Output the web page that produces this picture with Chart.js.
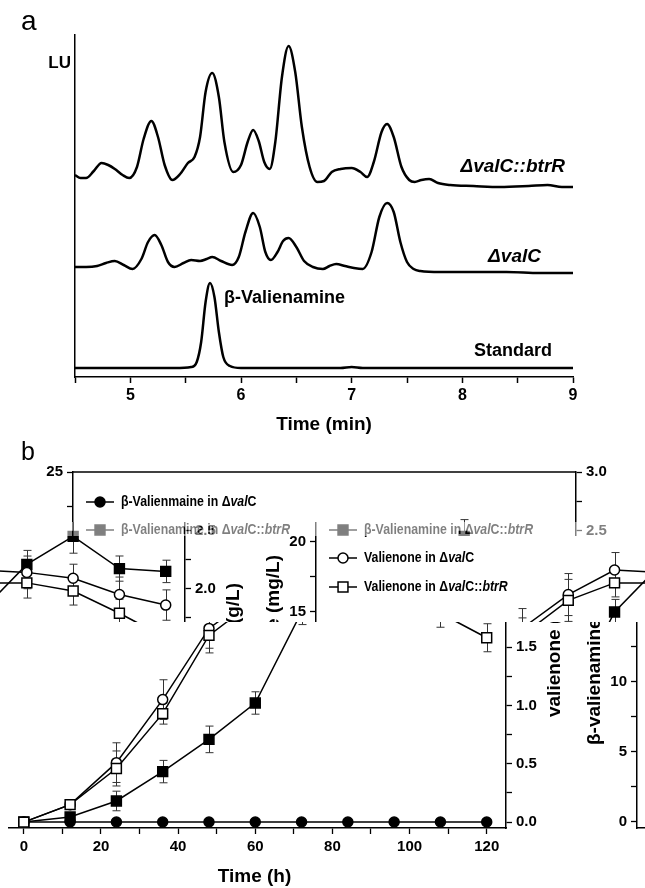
<!DOCTYPE html>
<html><head><meta charset="utf-8">
<script src="https://cdn.jsdelivr.net/npm/chart.js@4.4.1/dist/chart.umd.min.js"></script>
<style>
html,body{margin:0;padding:0;background:#fff;width:645px;height:888px;overflow:hidden}
#ca{position:absolute;left:0;top:0}
#cb{position:absolute;left:0;top:440px}
</style></head><body>
<canvas id="ca" width="645" height="440"></canvas>
<canvas id="cb" width="645" height="448"></canvas>
<script>
// ---------- Panel a : chromatograms ----------
const timeBtrR = [4.50,4.55,4.60,4.67,4.74,4.80,4.86,4.93,4.99,5.06,5.12,5.19,5.25,5.31,5.38,5.45,5.52,5.58,5.63,5.68,5.74,5.80,5.85,5.93,6.00,6.06,6.11,6.16,6.21,6.26,6.31,6.37,6.43,6.49,6.55,6.62,6.69,6.75,6.82,6.90,7.00,7.08,7.14,7.20,7.27,7.32,7.38,7.45,7.52,7.57,7.63,7.70,7.78,7.89,8.10,8.34,8.60,8.77,8.90,9.00];
const luBtrR   = [202,199,199,206,214,212,208,202,199,210,238,256,240,212,197,203,214,220,240,285,304,280,235,205,212,235,247,236,215,208,235,300,331,305,250,210,195,196,205,208,209,205,200,215,245,253,240,210,197,195,197,198,194,192,191,190,191,192,190,190];
const timeValC = [4.50,4.60,4.70,4.78,4.86,4.94,5.02,5.10,5.16,5.22,5.28,5.34,5.40,5.48,5.55,5.63,5.69,5.74,5.82,5.92,5.98,6.04,6.11,6.17,6.22,6.27,6.33,6.38,6.43,6.50,6.57,6.65,6.74,6.80,6.86,6.94,7.02,7.10,7.18,7.25,7.32,7.38,7.44,7.50,7.56,7.62,7.80,8.00,8.40,8.70,9.00];
const luValC   = [110,110,111,114,116,112,108,118,135,142,132,115,110,114,117,116,118,120,116,112,120,145,164,150,125,117,125,136,139,130,116,110,108,111,113,111,109,108,125,160,174,165,135,115,108,106,105,105,105,104,104];
const timeStd  = [4.50,5.00,5.40,5.55,5.60,5.64,5.68,5.72,5.76,5.80,5.84,5.90,6.00,6.50,6.90,7.00,7.10,8.00,9.00];
const luStd    = [9,9,9,10,15,35,75,94,80,45,20,11,9,9,9,10,9,9,9];
const xTicksA  = [4.5,5,5.5,6,6.5,7,7.5,8,8.5,9];
const traceLabelsA = ['ΔvalC::btrR','ΔvalC','β-Valienamine','Standard'];

// ---------- Panel b : time course ----------
const hours      = [0,12,24,36,48,60,72,84,96,108,120];
const bValC      = [0,0,0,0,0,0,0,0,0,0,0];                       // mg/L
const bBtrR      = [0,0.36,1.5,3.6,5.9,8.5,15.0,18.4,20.4,18.1,17.9]; // mg/L
const bBtrRErr   = [0.1,0.3,0.7,0.8,0.95,0.8,0.9,1.0,1.2,0.9,0.8];
const vValC      = [0,0.15,0.51,1.05,1.66,1.95,2.16,2.14,2.09,1.95,1.86]; // g/L
const vValCErr   = [0.01,0.04,0.17,0.17,0.17,0.18,0.15,0.14,0.12,0.15,0.13];
const vBtrR      = [0,0.15,0.46,0.93,1.60,1.90,2.05,2.05,1.98,1.79,1.58]; // g/L
const vBtrRErr   = [0.01,0.04,0.15,0.09,0.15,0.18,0.12,0.13,0.12,0.12,0.12];
const xTicksB    = [0,10,20,30,40,50,60,70,80,90,100,110,120];
const yLTicksB   = [0,2.5,5,7.5,10,12.5,15,17.5,20,22.5,25];
const yRTicksB   = [0,0.25,0.5,0.75,1,1.25,1.5,1.75,2,2.25,2.5,2.75,3];
const seriesNames = ['β-Valienmaine in ΔvalC','β-Valienamine in ΔvalC::btrR','Valienone in ΔvalC','Valienone in ΔvalC::btrR'];
const xTitleB = 'Time (h)', yLTitleB = 'β-valienamine (mg/L)', yRTitleB = 'valienone (g/L)';

const F = '"Liberation Sans", Arial, Helvetica, sans-serif';

function richText(ctx, text, x, y, size, baseItalic) {
  const parts = text.split(/(val(?=C)|btrR)/).filter(s => s.length);
  let cx = x;
  parts.forEach(p => {
    const it = baseItalic || p === 'val' || p === 'btrR';
    ctx.font = (it ? 'italic ' : '') + 'bold ' + size + 'px ' + F;
    ctx.fillText(p, cx, y);
    cx += ctx.measureText(p).width;
  });
}

// ---------- Chart a ----------
const decoA = {
  id: 'decoA',
  beforeDraw(c) { const ctx = c.ctx; ctx.save(); ctx.fillStyle = '#fff'; ctx.fillRect(0, 0, c.width, c.height); ctx.restore(); },
  afterDraw(c) {
    const ctx = c.ctx, a = c.chartArea;
    ctx.save();
    ctx.fillStyle = '#000';
    ctx.textBaseline = 'alphabetic'; ctx.textAlign = 'left';
    ctx.font = '28px ' + F; ctx.fillText('a', 21, 30);
    ctx.textBaseline = 'middle';
    ctx.textAlign = 'right'; ctx.font = 'bold 17px ' + F; ctx.fillText('LU', 71, 63);
    ctx.textAlign = 'center'; ctx.font = 'bold 19px ' + F; ctx.fillText('Time (min)', (a.left + a.right) / 2, 425);
    ctx.textAlign = 'left';
    ctx.font = 'italic bold 19px ' + F;
    let w = ctx.measureText(traceLabelsA[0]).width; ctx.fillText(traceLabelsA[0], 565 - w, 167);
    w = ctx.measureText(traceLabelsA[1]).width; ctx.fillText(traceLabelsA[1], 541 - w, 257);
    ctx.font = 'bold 18px ' + F; ctx.fillText(traceLabelsA[2], 224, 298);
    ctx.fillText(traceLabelsA[3], 474, 351);
    ctx.restore();
  }
};
const mk = (t, v) => t.map((x, i) => ({ x, y: v[i] }));
const lineDs = (t, v) => ({ data: mk(t, v), borderColor: '#000', borderWidth: 2.5, pointRadius: 0, cubicInterpolationMode: 'monotone', fill: false });
new Chart(document.getElementById('ca'), {
  type: 'line',
  data: { datasets: [lineDs(timeBtrR, luBtrR), lineDs(timeValC, luValC), lineDs(timeStd, luStd)] },
  options: {
    responsive: false, animation: false, devicePixelRatio: 1, events: [],
    layout: { padding: { top: 35, right: 72, left: 0, bottom: 0 } },
    plugins: { legend: { display: false }, tooltip: { enabled: false } },
    scales: {
      x: { type: 'linear', min: 4.5, max: 9,
        afterBuildTicks: s => { s.ticks = xTicksA.map(v => ({ value: v })); },
        afterFit: s => { s.height = 63; },
        grid: { display: true, drawOnChartArea: false, drawTicks: true, tickLength: 6, color: '#000', tickWidth: 1.5 },
        border: { display: true, color: '#000', width: 1.5 },
        ticks: { color: '#000', font: { family: F, size: 16, weight: 'bold' }, padding: 3, maxRotation: 0, autoSkip: false,
          callback: v => Number.isInteger(v) ? String(v) : '' } },
      y: { type: 'linear', min: 0, max: 342,
        afterFit: s => { s.width = 75; },
        grid: { display: true, drawOnChartArea: false, drawTicks: false },
        border: { display: true, color: '#000', width: 1.5 },
        ticks: { display: false } }
    }
  },
  plugins: [decoA]
});

// ---------- Chart b ----------
const styleOf = [
  { pointStyle: 'circle', r: 5, fill: '#000' },
  { pointStyle: 'rect', r: 7, fill: '#000' },
  { pointStyle: 'circle', r: 5, fill: '#fff' },
  { pointStyle: 'rect', r: 7, fill: '#fff' }
];
function ptDs(i, vals, err, axis) {
  const s = styleOf[i];
  return { label: seriesNames[i], data: mk(hours, vals), err, yAxisID: axis,
    borderColor: '#000', borderWidth: 1.5, tension: 0,
    pointStyle: s.pointStyle, pointRadius: s.r, pointBackgroundColor: s.fill,
    pointBorderColor: '#000', pointBorderWidth: 1.5, fill: false };
}
function drawMarker(ctx, i, x, y) {
  const s = styleOf[i];
  ctx.fillStyle = s.fill; ctx.strokeStyle = '#000'; ctx.lineWidth = 1.5;
  ctx.beginPath();
  if (s.pointStyle === 'circle') ctx.arc(x, y, s.r, 0, Math.PI * 2);
  else { const h = s.r * Math.SQRT1_2; ctx.rect(x - h, y - h, 2 * h, 2 * h); }
  ctx.fill(); ctx.stroke();
}
const decoB = {
  id: 'decoB',
  beforeDraw(c) { const ctx = c.ctx; ctx.save(); ctx.fillStyle = '#fff'; ctx.fillRect(0, 0, c.width, c.height); ctx.restore(); },
  beforeDatasetsDraw(c) {
    const ctx = c.ctx; ctx.save(); ctx.strokeStyle = '#333'; ctx.lineWidth = 1;
    c.data.datasets.forEach(ds => {
      if (!ds.err) return;
      const ys = c.scales[ds.yAxisID], xs = c.scales.x;
      ds.data.forEach((p, j) => {
        const e = ds.err[j]; if (!e) return;
        const x = Math.round(xs.getPixelForValue(p.x)) + 0.5;
        const y1 = ys.getPixelForValue(p.y + e), y2 = ys.getPixelForValue(p.y - e);
        ctx.beginPath(); ctx.moveTo(x, y1); ctx.lineTo(x, y2);
        ctx.moveTo(x - 4, y1); ctx.lineTo(x + 4, y1); ctx.moveTo(x - 4, y2); ctx.lineTo(x + 4, y2); ctx.stroke();
      });
    });
    ctx.restore();
  },
  afterDraw(c) {
    const ctx = c.ctx, a = c.chartArea;
    ctx.save();
    ctx.strokeStyle = '#000'; ctx.lineWidth = 1.5;
    ctx.beginPath(); ctx.moveTo(a.left, a.top); ctx.lineTo(a.right, a.top); ctx.stroke();
    ctx.fillStyle = '#000';
    ctx.textAlign = 'left'; ctx.textBaseline = 'alphabetic';
    ctx.font = '25px ' + F; ctx.fillText('b', 21, 20);
    ctx.textBaseline = 'middle'; ctx.textAlign = 'center';
    ctx.font = 'bold 19px ' + F; ctx.fillText(xTitleB, (a.left + a.right) / 2, 437);
    const cy = (a.top + a.bottom) / 2;
    [[yLTitleB, 31], [yRTitleB, 625]].forEach(([t, x]) => {
      ctx.save(); ctx.translate(x, cy); ctx.rotate(-Math.PI / 2); ctx.fillText(t, 0, 0); ctx.restore();
    });
    const ly = [62, 90, 118, 147];
    ctx.textAlign = 'left';
    seriesNames.forEach((n, i) => {
      ctx.strokeStyle = '#000'; ctx.lineWidth = 1.5;
      ctx.beginPath(); ctx.moveTo(86, ly[i]); ctx.lineTo(114, ly[i]); ctx.stroke();
      drawMarker(ctx, i, 100, ly[i]);
      ctx.fillStyle = '#000';
      ctx.save(); ctx.translate(121, ly[i]); ctx.scale(0.88, 1);
      richText(ctx, n, 0, 0, 14, false);
      ctx.restore();
    });
    ctx.restore();
  }
};
// reproduce the horizontally displaced row bands of the reference picture
const bandsB = {
  id: 'bandsB',
  afterDraw(c) {
    const ctx = c.ctx, w = c.width, W = 634;
    const apply = (y0, y1, s, mode) => {
      const h = y1 - y0;
      const img = ctx.getImageData(0, y0, w, h), src = img.data;
      const out = new Uint8ClampedArray(src.length);
      for (let y = 0; y < h; y++) for (let x = 0; x < w; x++) {
        const sx = (((x - s) % W) + W) % W;
        const si = (y * w + sx) * 4, di = (y * w + x) * 4;
        for (let k = 0; k < 4; k++) out[di + k] = mode === 'blend' ? (src[di + k] + src[si + k]) >> 1 : src[si + k];
        if (mode === 'cut' && x < 8) { out[di] = out[di + 1] = out[di + 2] = out[di + 3] = 255; }
      }
      ctx.putImageData(new ImageData(out, w, h), 0, y0);
    };
    apply(82, 96, 243, 'blend');
    apply(96, 182, 243, 'copy');
    apply(182, 448, -70, 'cut');
  }
};
const tickFont = { family: F, size: 15, weight: 'bold' };
new Chart(document.getElementById('cb'), {
  type: 'line',
  data: { datasets: [
    ptDs(3, vBtrR, vBtrRErr, 'yR'),
    ptDs(2, vValC, vValCErr, 'yR'),
    ptDs(1, bBtrR, bBtrRErr, 'yL'),
    ptDs(0, bValC, null, 'yL')
  ] },
  options: {
    responsive: false, animation: false, devicePixelRatio: 1, events: [],
    layout: { padding: { top: 32, right: 0, left: 0, bottom: 0 } },
    plugins: { legend: { display: false }, tooltip: { enabled: false } },
    scales: {
      x: { type: 'linear', min: -5.4, max: 125,
        afterBuildTicks: s => { s.ticks = xTicksB.map(v => ({ value: v })); },
        afterFit: s => { s.height = 60; },
        grid: { display: true, drawOnChartArea: false, drawTicks: true, tickLength: 6, color: '#000', tickWidth: 1.3 },
        border: { display: true, color: '#000', width: 1.5 },
        ticks: { color: '#000', font: tickFont, padding: 4, maxRotation: 0, autoSkip: false,
          callback: v => v % 20 === 0 ? String(v) : '' } },
      yL: { type: 'linear', position: 'left', min: -0.43, max: 25,
        afterBuildTicks: s => { s.ticks = yLTicksB.map(v => ({ value: v })); },
        afterFit: s => { s.width = 73; },
        grid: { display: true, drawOnChartArea: false, drawTicks: true, tickLength: 6, color: '#000', tickWidth: 1.3 },
        border: { display: true, color: '#000', width: 1.5 },
        ticks: { color: '#000', font: tickFont, padding: 4, autoSkip: false,
          callback: v => v % 5 === 0 ? String(v) : '' } },
      yR: { type: 'linear', position: 'right', min: -0.05, max: 3.0,
        afterBuildTicks: s => { s.ticks = yRTicksB.map(v => ({ value: v })); },
        afterFit: s => { s.width = 69; },
        grid: { display: true, drawOnChartArea: false, drawTicks: true, tickLength: 6, color: '#000', tickWidth: 1.3 },
        border: { display: true, color: '#000', width: 1.5 },
        ticks: { color: '#000', font: tickFont, padding: 4, autoSkip: false,
          callback: v => (Math.abs(v * 2 - Math.round(v * 2)) < 1e-9) ? v.toFixed(1) : '' } }
    }
  },
  plugins: [decoB, bandsB]
});
</script>
</body></html>
